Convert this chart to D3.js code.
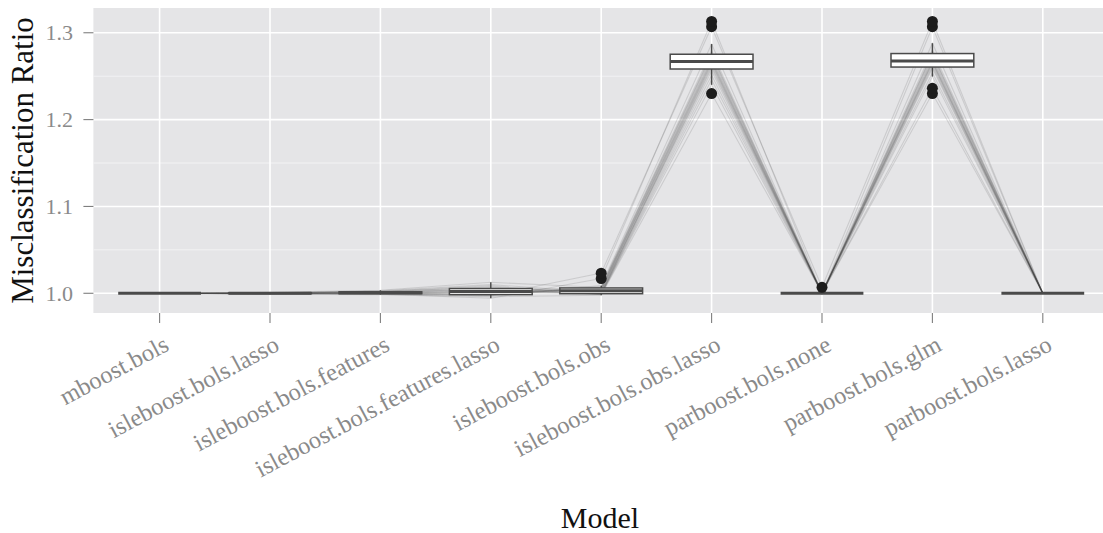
<!DOCTYPE html>
<html><head><meta charset="utf-8">
<script src="https://cdn.jsdelivr.net/npm/d3@7"></script>
<style>
html,body{margin:0;padding:0;background:#fff;}
svg{display:block;font-family:"Liberation Serif","DejaVu Serif",serif;}
</style></head>
<body><svg id="chart" width="1103" height="533"></svg>
<script>
const models = ["mboost.bols","isleboost.bols.lasso","isleboost.bols.features","isleboost.bols.features.lasso","isleboost.bols.obs","isleboost.bols.obs.lasso","parboost.bols.none","parboost.bols.glm","parboost.bols.lasso"];
const yTicks = [1.0, 1.1, 1.2, 1.3];
const yMinor = [1.05, 1.15, 1.25];

// misclassification ratio per replicate (replicate order), one array per model
const mboostBols = [1,1,1,1,1,1,1,1,1,1,1,1,1,1,1,1,1,1,1,1];
const isleboostBolsLasso = [1.0002,0.9996,1.0007,1.0000,1.0005,0.9990,1.0010,0.9998,1.0001,0.9994,1.0003,0.9997,1.0006,1.0000,0.9995,1.0004,0.9999,1.0008,1.0000,0.9992];
const isleboostBolsFeatures = [1.0004,0.9992,1.0022,0.9996,1.0013,0.9985,1.0035,1.0000,1.0010,0.9990,1.0006,0.9995,1.0018,1.0002,0.9994,1.0016,0.9998,1.0030,1.0008,1.0026];
const isleboostBolsFeaturesLasso = [1.0024,0.9975,1.0085,0.9995,1.0038,0.9960,1.0127,1.0012,1.0053,0.9942,1.0030,0.9987,1.0072,1.0018,0.9970,1.0046,1.0005,1.0100,0.9978,1.0060];
const isleboostBolsObs = [1.0002,1.0232,0.9988,1.0038,1.0026,0.9978,1.0066,0.9993,1.0045,1.0170,0.9996,1.0060,0.9984,1.0032,1.0074,0.9991,1.0052,1.0010,1.0088,1.0018];
const isleboostBolsObsLasso = [1.263,1.307,1.246,1.271,1.266,1.230,1.276,1.256,1.269,1.313,1.261,1.275,1.240,1.2676,1.279,1.251,1.273,1.265,1.287,1.259];
const parboostBolsNone = [1,1.0069,1,1,1,1,1,1,1,1,1,1,1,1,1,1,1,1,1,1];
const parboostBolsGlm = [1.266,1.313,1.236,1.270,1.2682,1.230,1.2758,1.261,1.272,1.307,1.263,1.2768,1.2495,1.267,1.280,1.259,1.274,1.265,1.288,1.254];
const parboostBolsLasso = [1,1,1,1,1,1,1,1,1,1,1,1,1,1,1,1,1,1,1,1];

const seriesByModel = [mboostBols,isleboostBolsLasso,isleboostBolsFeatures,isleboostBolsFeaturesLasso,isleboostBolsObs,isleboostBolsObsLasso,parboostBolsNone,parboostBolsGlm,parboostBolsLasso];

const svg = d3.select("#chart");
const panel = {left:93.4, top:8, bottom:313};
const x = d3.scalePoint().domain(models).range([159.6, 1042.8]);
const step = x.step();
const panelRight = x(models[models.length-1]) + 0.6*step;
const y = d3.scaleLinear().domain([0.9773, 1.3285]).range([panel.bottom, panel.top]);

// panel background
svg.append("rect").attr("x", panel.left).attr("y", panel.top)
  .attr("width", panelRight - panel.left).attr("height", panel.bottom - panel.top)
  .attr("fill", "#e5e5e7");

const grid = svg.append("g");
grid.selectAll(".ymin").data(yMinor).join("line")
  .attr("x1", panel.left).attr("x2", panelRight)
  .attr("y1", d => y(d)).attr("y2", d => y(d))
  .attr("stroke", "#f4f4f5").attr("stroke-width", 0.9);
grid.selectAll(".ymaj").data(yTicks).join("line")
  .attr("x1", panel.left).attr("x2", panelRight)
  .attr("y1", d => y(d)).attr("y2", d => y(d))
  .attr("stroke", "#ffffff").attr("stroke-width", 1.6);
grid.selectAll(".xmaj").data(models).join("line")
  .attr("x1", d => x(d)).attr("x2", d => x(d))
  .attr("y1", panel.top).attr("y2", panel.bottom)
  .attr("stroke", "#ffffff").attr("stroke-width", 1.6);

// replicate lines
const nRep = mboostBols.length;
const reps = d3.range(nRep).map(r => models.map((m, i) => ({m, v: seriesByModel[i][r]})));
const line = d3.line().x(d => x(d.m)).y(d => y(d.v));
svg.append("g").selectAll("path").data(reps).join("path")
  .attr("d", line).attr("fill", "none")
  .attr("stroke", "#3a3a3a").attr("stroke-opacity", 0.15).attr("stroke-width", 1.1);

// boxplots
const boxW = 0.75 * step;
const boxCol = "#4a4a4a";
const stats = models.map((m, i) => {
  const s = seriesByModel[i].slice().sort(d3.ascending);
  const q1 = d3.quantile(s, 0.25), med = d3.quantile(s, 0.5), q3 = d3.quantile(s, 0.75);
  const iqr = q3 - q1;
  const lo = q1 - 1.5*iqr, hi = q3 + 1.5*iqr;
  const inside = s.filter(v => v >= lo && v <= hi);
  return {m, q1, med, q3, wlo: d3.min(inside), whi: d3.max(inside), out: s.filter(v => v < lo || v > hi)};
});
const bg = svg.append("g");
stats.forEach(st => {
  const cx = x(st.m);
  const g = bg.append("g");
  g.append("line").attr("x1", cx).attr("x2", cx).attr("y1", y(st.q3)).attr("y2", y(st.whi))
    .attr("stroke", boxCol).attr("stroke-width", 1.5);
  g.append("line").attr("x1", cx).attr("x2", cx).attr("y1", y(st.q1)).attr("y2", y(st.wlo))
    .attr("stroke", boxCol).attr("stroke-width", 1.5);
  g.append("rect").attr("x", cx - boxW/2).attr("width", boxW)
    .attr("y", y(st.q3)).attr("height", Math.max(0, y(st.q1) - y(st.q3)))
    .attr("fill", "#ffffff").attr("stroke", boxCol).attr("stroke-width", 1.5);
  g.append("line").attr("x1", cx - boxW/2).attr("x2", cx + boxW/2)
    .attr("y1", y(st.med)).attr("y2", y(st.med))
    .attr("stroke", boxCol).attr("stroke-width", 3);
  g.selectAll("circle").data(st.out).join("circle")
    .attr("cx", cx).attr("cy", d => y(d)).attr("r", 5.5).attr("fill", "#1c1c1c");
});

// axes ticks
const tickCol = "#7f7f7f";
svg.append("g").selectAll("line").data(yTicks).join("line")
  .attr("x1", panel.left - 10).attr("x2", panel.left)
  .attr("y1", d => y(d)).attr("y2", d => y(d))
  .attr("stroke", tickCol).attr("stroke-width", 1.1);
svg.append("g").selectAll("line").data(models).join("line")
  .attr("x1", d => x(d)).attr("x2", d => x(d))
  .attr("y1", panel.bottom).attr("y2", panel.bottom + 10)
  .attr("stroke", tickCol).attr("stroke-width", 1.1);

const labCol = "#8a8a8a";
svg.append("g").selectAll("text").data(yTicks).join("text")
  .attr("x", 73).attr("y", d => y(d)).attr("dy", "0.34em")
  .attr("text-anchor", "end").attr("font-size", 22).attr("fill", labCol)
  .text(d => d3.format(".1f")(d));

svg.append("g").selectAll("text").data(models).join("text")
  .attr("transform", d => `translate(${x(d) + 2.5},334) rotate(-28)`)
  .attr("dy", "0.72em")
  .attr("text-anchor", "end").attr("font-size", 24.5).attr("fill", labCol)
  .text(d => d);

// titles
svg.append("text").attr("x", 600).attr("y", 528)
  .attr("text-anchor", "middle").attr("font-size", 30).attr("fill", "#111")
  .text("Model");
svg.append("text").attr("transform", `translate(33,${(panel.top + panel.bottom)/2}) rotate(-90)`)
  .attr("text-anchor", "middle").attr("font-size", 31).attr("fill", "#111")
  .text("Misclassification Ratio");
</script></body></html>
